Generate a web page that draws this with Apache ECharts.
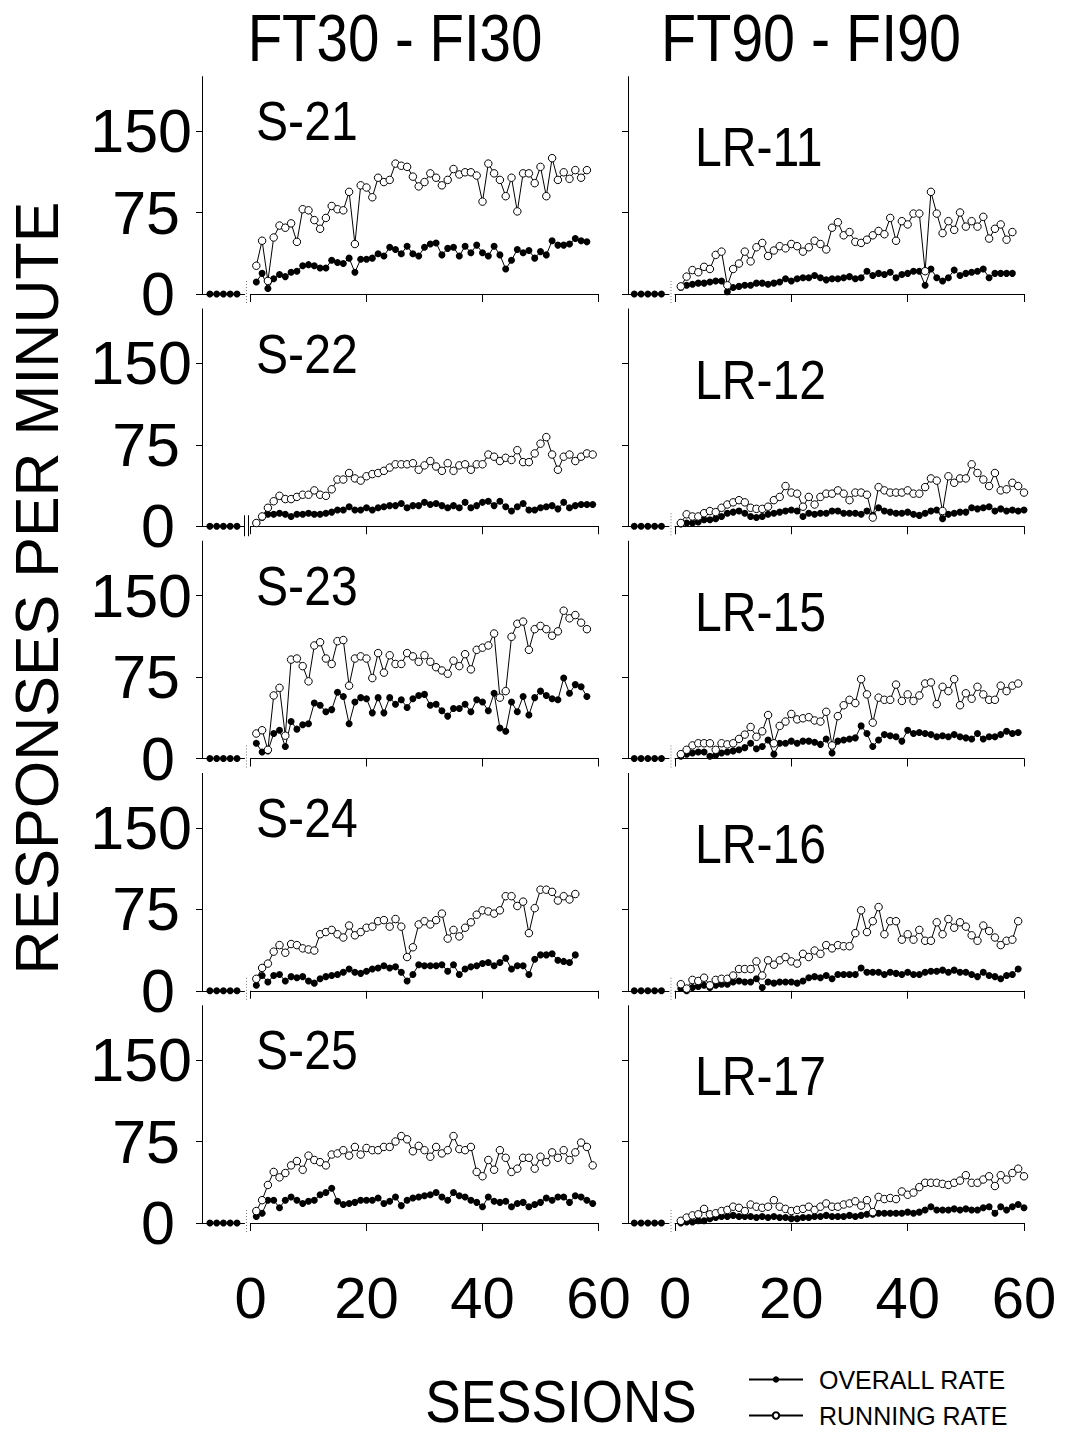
<!DOCTYPE html>
<html>
<head>
<meta charset="utf-8">
<script src="https://cdn.jsdelivr.net/npm/echarts@6/dist/echarts.min.js"></script>
<style>
  html, body { margin: 0; padding: 0; background: #fff; }
  #main { width: 1068px; height: 1436px; }
</style>
</head>
<body>
<div id="main"></div>
<script>
// ---------------- DATA ----------------
const COLUMN_TITLES = ['FT30 - FI30', 'FT90 - FI90'];
const Y_TITLE = 'RESPONSES PER MINUTE';
const X_TITLE = 'SESSIONS';
const LEGEND_NAMES = ['OVERALL RATE', 'RUNNING RATE'];
const Y_TICKS = [0, 75, 150];
const X_TICKS = [0, 20, 40, 60];

// baseline sessions (plotted left of the axis break), all at zero
const BASE_X = [-7, -5.83, -4.67, -3.5, -2.33];
const BASE_Y = [0, 0, 0, 0, 0];

// sessions start at 1 for every subject
const S21_OVERALL = [11,19,5,14,18,16,20,21,26,27, 26,24,24,31,29,28,33,20,32,32, 33,37,35,43,41,37,44,37,35,43, 46,47,36,42,43,35,44,38,45,38, 35,44,36,23,31,41,38,40,33,39, 36,49,45,45,46,51,49,48];
const S21_RUNNING = [26,49,12,52,63,61,65,48,78,77, 68,60,70,81,78,77,94,46,100,98, 89,107,103,105,120,118,117,108,99,103, 111,107,100,105,115,110,112,112,109,85, 120,111,105,90,107,76,111,111,102,117, 90,125,105,112,106,114,107,114];

const LR11_OVERALL = [6,8,9,10,10,11,12,12,2,6, 7,8,8,10,10,9,10,11,14,12, 14,15,15,17,15,13,14,14,15,16, 14,15,21,17,19,18,20,15,18,19, 21,21,8,23,15,12,15,22,17,19, 20,21,23,15,19,19,19,19];
const LR11_RUNNING = [7,16,22,20,25,23,36,39,8,23, 28,39,30,43,47,35,40,44,42,46, 44,39,43,49,46,41,61,66,54,57, 48,47,50,54,58,55,70,49,67,64, 74,74,21,94,74,56,67,59,75,62, 67,62,71,51,60,64,50,57];

const S22_OVERALL = [3,8,11,11,12,11,9,11,11,12, 11,11,12,13,15,15,18,15,15,17, 15,17,18,19,19,21,17,19,19,22, 20,21,19,17,19,17,22,17,19,22, 23,19,23,18,14,18,21,15,15,17, 18,19,16,22,17,19,20,20,20];
const S22_RUNNING = [3,9,17,23,28,25,25,27,29,29, 33,29,28,34,43,43,49,44,42,46, 48,49,51,54,57,57,57,58,52,56, 60,55,51,58,51,56,57,52,57,57, 66,64,60,63,61,70,59,59,67,76, 82,66,52,64,66,60,64,67,66];

const LR12_OVERALL = [2,3,3,4,6,6,7,9,12,13, 14,12,9,8,9,11,12,13,14,15, 14,9,12,11,12,12,14,14,12,12, 12,11,14,10,17,14,13,12,12,13, 11,10,12,14,15,7,11,12,13,13, 17,16,17,18,14,16,14,15,14,15];
const LR12_RUNNING = [3,11,9,9,12,14,13,17,20,22, 24,22,17,16,16,18,24,27,37,31, 30,18,27,20,27,30,30,33,30,24, 31,31,29,8,36,33,31,31,31,33, 30,30,36,44,42,14,46,40,44,44, 57,49,43,37,49,33,34,40,37,31];

const S23_OVERALL = [14,6,7,23,26,11,34,27,31,32, 51,49,43,45,61,57,32,52,56,55, 42,56,42,56,50,54,47,55,58,59, 49,50,44,39,46,46,50,43,54,52, 44,60,28,25,52,43,57,40,56,62, 58,55,54,74,60,68,66,57];
const S23_RUNNING = [23,26,8,58,65,21,91,92,85,71, 104,107,92,87,108,109,67,92,94,92, 74,97,79,95,87,87,97,94,89,95, 89,84,81,78,90,85,96,82,100,102, 104,115,56,62,112,124,126,100,119,122, 119,113,117,136,129,132,125,119];

const LR15_OVERALL = [2,4,5,6,6,2,3,5,6,7, 8,10,14,9,11,17,4,14,14,16, 14,16,16,15,13,18,5,16,17,18, 19,30,23,11,17,22,21,20,16,26, 23,24,23,22,20,21,20,22,20,19, 18,23,18,20,20,22,25,23,24];
const LR15_RUNNING = [4,8,12,14,14,14,8,14,13,14, 18,22,29,20,25,40,14,30,34,41, 36,37,38,35,34,43,12,39,49,54, 51,73,59,33,56,54,54,68,53,59, 53,58,69,70,50,66,62,73,49,60, 55,66,59,54,54,67,62,67,69];

const S24_OVERALL = [5,14,8,14,15,9,13,12,13,9, 7,11,13,14,15,17,20,17,16,18, 20,21,23,21,22,17,9,15,24,23, 23,23,24,18,24,15,20,22,23,25, 26,23,26,30,20,23,23,15,29,33, 33,34,28,27,26,33];
const S24_RUNNING = [11,21,25,36,42,35,43,42,39,38, 37,52,54,56,52,49,60,51,54,58, 59,64,65,59,66,59,31,40,61,64, 61,65,71,48,56,50,58,63,70,74, 73,71,74,87,87,78,82,53,76,93, 93,91,83,87,84,89];

const LR16_OVERALL = [2,0,3,4,5,3,5,6,6,8, 9,8,8,11,3,8,7,8,8,8, 7,9,12,13,12,14,11,15,15,15, 15,21,17,17,17,15,17,16,15,17, 15,15,17,18,18,19,17,19,17,17, 15,13,17,14,13,11,14,15,20];
const LR16_RUNNING = [6,2,10,9,12,5,10,11,11,14, 20,20,20,27,14,28,24,28,31,27, 25,34,31,37,34,42,39,42,41,41, 53,74,54,64,77,52,64,64,47,52, 47,56,46,46,63,52,66,58,63,59, 51,46,60,55,49,42,46,47,64];

const S25_OVERALL = [6,9,21,21,14,21,24,21,18,20, 21,26,28,32,20,17,18,19,21,21, 21,23,18,20,24,16,21,23,24,25, 26,28,24,21,28,25,24,21,19,15, 24,20,19,20,15,18,19,15,17,19, 23,21,24,24,19,25,24,21,18];
const S25_RUNNING = [11,21,35,47,42,46,53,57,49,62, 58,56,53,63,64,67,62,70,63,69, 67,67,70,70,75,80,77,66,71,67, 61,70,64,67,80,68,67,70,47,43, 58,49,67,60,47,50,60,60,50,61, 56,65,60,67,58,65,74,70,53];

const LR17_OVERALL = [0,1,1,2,2,4,5,6,6,7, 6,6,6,5,6,5,6,5,5,4, 4,5,5,6,6,7,6,6,6,7, 6,7,8,8,9,9,9,9,9,10, 9,10,12,15,12,12,12,13,12,13, 12,12,14,15,9,15,12,15,17,14];
const LR17_RUNNING = [2,5,7,8,13,8,9,11,12,15, 14,11,17,15,14,15,21,15,13,11, 12,13,15,12,15,18,15,15,17,18, 20,16,21,10,24,22,23,22,29,26, 28,33,37,37,37,36,35,37,39,44, 37,37,40,43,34,44,40,46,50,43];

const PANELS = [
  {label:'S-21',  col:0, row:0, start:1, overall:S21_OVERALL,  running:S21_RUNNING},
  {label:'LR-11', col:1, row:0, start:1, overall:LR11_OVERALL, running:LR11_RUNNING},
  {label:'S-22',  col:0, row:1, start:1, overall:S22_OVERALL,  running:S22_RUNNING},
  {label:'LR-12', col:1, row:1, start:1, overall:LR12_OVERALL, running:LR12_RUNNING},
  {label:'S-23',  col:0, row:2, start:1, overall:S23_OVERALL,  running:S23_RUNNING},
  {label:'LR-15', col:1, row:2, start:1, overall:LR15_OVERALL, running:LR15_RUNNING},
  {label:'S-24',  col:0, row:3, start:1, overall:S24_OVERALL,  running:S24_RUNNING},
  {label:'LR-16', col:1, row:3, start:1, overall:LR16_OVERALL, running:LR16_RUNNING},
  {label:'S-25',  col:0, row:4, start:1, overall:S25_OVERALL,  running:S25_RUNNING},
  {label:'LR-17', col:1, row:4, start:1, overall:LR17_OVERALL, running:LR17_RUNNING}
];

// ---------------- LAYOUT / STYLE ----------------
const FONT = "'Liberation Sans', Arial, Helvetica, sans-serif";
const NARROW_SCALE = 0.86;   // condensed look of the original lettering
const COLS = [
  {axisX: 202, x0: 250.5, x60: 598.5, labelX: 256, labelY0: 121},
  {axisX: 628, x0: 675,   x60: 1024,  labelX: 695, labelY0: 147}
];
const ROW_ZERO0 = 294, ROW_STEP = 232.25;
const Y_MIN = 0, Y_MAX = 200, PX_PER_UNIT_Y = 81.5 / 75;
const BREAK_GAP = 6;
const BLACK = '#000';
const Y_LABEL_FONT = {fontSize: 61, fontFamily: FONT, color: BLACK};
const Y_LABEL_RICH = {
  l0:   Object.assign({padding: [0, 17, 0, 0]}, Y_LABEL_FONT),
  l75:  Object.assign({padding: [0, 12, 0, 0]}, Y_LABEL_FONT),
  l150: Object.assign({padding: [0, 0, 0, 0]}, Y_LABEL_FONT)
};

const chart = echarts.init(document.getElementById('main'), null, {renderer: 'svg', width: 1068, height: 1436});

const grids = [], xAxes = [], yAxes = [], series = [], graphics = [];
const axisLineStyle = {show: true, lineStyle: {color: BLACK, width: 1}};

PANELS.forEach((p, i) => {
  const c = COLS[p.col];
  const zero = ROW_ZERO0 + ROW_STEP * p.row;
  const h = (Y_MAX - Y_MIN) * PX_PER_UNIT_Y;
  const ppu = (c.x60 - c.x0) / 60;
  const a = 2 * i, b = 2 * i + 1;
  grids.push({left: c.axisX, top: zero - h, width: c.x0 - BREAK_GAP - c.axisX, height: h});
  grids.push({left: c.x0, top: zero - h, width: c.x60 - c.x0, height: h});

  xAxes.push({type: 'value', gridIndex: a, min: (c.axisX - c.x0) / ppu, max: -BREAK_GAP / ppu,
    axisLine: axisLineStyle, axisTick: {show: false}, axisLabel: {show: false}, splitLine: {show: false}});
  xAxes.push({type: 'value', gridIndex: b, min: 0, max: 60, interval: 20,
    axisLine: axisLineStyle,
    axisTick: {show: true, length: 8, lineStyle: {color: BLACK, width: 1}},
    axisLabel: {show: p.row === 4, fontSize: 58, fontFamily: FONT, color: BLACK, margin: 45,
      showMinLabel: true, showMaxLabel: true},
    splitLine: {show: false}});

  yAxes.push({type: 'value', gridIndex: a, min: Y_MIN, max: Y_MAX, interval: 75,
    axisLine: axisLineStyle,
    axisTick: {show: true, length: 6, lineStyle: {color: BLACK, width: 1}, customValues: Y_TICKS},
    axisLabel: Object.assign({show: p.col === 0, margin: 10, customValues: Y_TICKS,
      formatter: v => (Y_TICKS.indexOf(v) >= 0 ? '{l' + v + '|' + v + '}' : ''),
      rich: Y_LABEL_RICH}, Y_LABEL_FONT),
    splitLine: {show: false}});
  yAxes.push({type: 'value', gridIndex: b, min: Y_MIN, max: Y_MAX, show: false});

  series.push({
    type: 'line', name: LEGEND_NAMES[0], xAxisIndex: a, yAxisIndex: a,
    data: BASE_X.map((x, k) => [x, BASE_Y[k]]),
    symbol: 'circle', symbolSize: 7, itemStyle: {color: BLACK},
    lineStyle: {color: BLACK, width: 1}, silent: true, z: 3
  });
  series.push({
    type: 'line', name: LEGEND_NAMES[0], xAxisIndex: b, yAxisIndex: b,
    data: p.overall.map((v, k) => [p.start + k, v]),
    symbol: 'circle', symbolSize: 7, itemStyle: {color: BLACK},
    lineStyle: {color: BLACK, width: 1}, silent: true, z: 3
  });
  series.push({
    type: 'line', name: LEGEND_NAMES[1], xAxisIndex: b, yAxisIndex: b,
    data: p.running.map((v, k) => [p.start + k, v]),
    symbol: 'circle', symbolSize: 7.5,
    itemStyle: {color: '#fff', borderColor: BLACK, borderWidth: 1},
    lineStyle: {color: BLACK, width: 1}, silent: true, z: 4
  });

  // panel label
  graphics.push({
    type: 'text', x: c.labelX, y: c.labelY0 + ROW_STEP * p.row, scaleX: NARROW_SCALE,
    style: {text: p.label, fontSize: 56, fontFamily: FONT, fill: BLACK,
      textAlign: 'left', textVerticalAlign: 'middle'}
  });

  // axis-break marks between baseline and sessions
  const bx = c.x0 - BREAK_GAP / 2 - 1;
  if (p.label === 'S-22') {
    [bx - 2, bx + 2].forEach(xx => graphics.push({type: 'line', silent: true,
      shape: {x1: xx, y1: zero - 11, x2: xx, y2: zero + 10},
      style: {stroke: BLACK, lineWidth: 1}}));
  } else {
    graphics.push({type: 'line', silent: true,
      shape: {x1: bx, y1: zero - 13, x2: bx, y2: zero + 10},
      style: {stroke: '#777', lineWidth: 1, lineDash: [1, 2]}});
  }
});

graphics.push({type: 'text', x: 395, y: 38, scaleX: 0.855,
  style: {text: COLUMN_TITLES[0], fontSize: 66, fontFamily: FONT, fill: BLACK, textAlign: 'center', textVerticalAlign: 'middle'}});
graphics.push({type: 'text', x: 811, y: 38, scaleX: 0.87,
  style: {text: COLUMN_TITLES[1], fontSize: 66, fontFamily: FONT, fill: BLACK, textAlign: 'center', textVerticalAlign: 'middle'}});
graphics.push({type: 'text', x: 37, y: 588, rotation: Math.PI / 2,
  style: {text: Y_TITLE, fontSize: 61, fontFamily: FONT, fill: BLACK, textAlign: 'center', textVerticalAlign: 'middle'}});
graphics.push({type: 'text', x: 561, y: 1401, scaleX: 0.885,
  style: {text: X_TITLE, fontSize: 60, fontFamily: FONT, fill: BLACK, textAlign: 'center', textVerticalAlign: 'middle'}});

chart.setOption({
  animation: false,
  backgroundColor: '#fff',
  grid: grids,
  xAxis: xAxes,
  yAxis: yAxes,
  series: series,
  legend: {
    data: LEGEND_NAMES, orient: 'vertical', left: 748, top: 1367, padding: 0,
    itemWidth: 54, itemHeight: 8, itemGap: 11, selectedMode: false,
    textStyle: {fontSize: 25, fontFamily: FONT, color: BLACK, padding: [0, 0, 0, 11]}
  },
  graphic: graphics
});
</script>
</body>
</html>
